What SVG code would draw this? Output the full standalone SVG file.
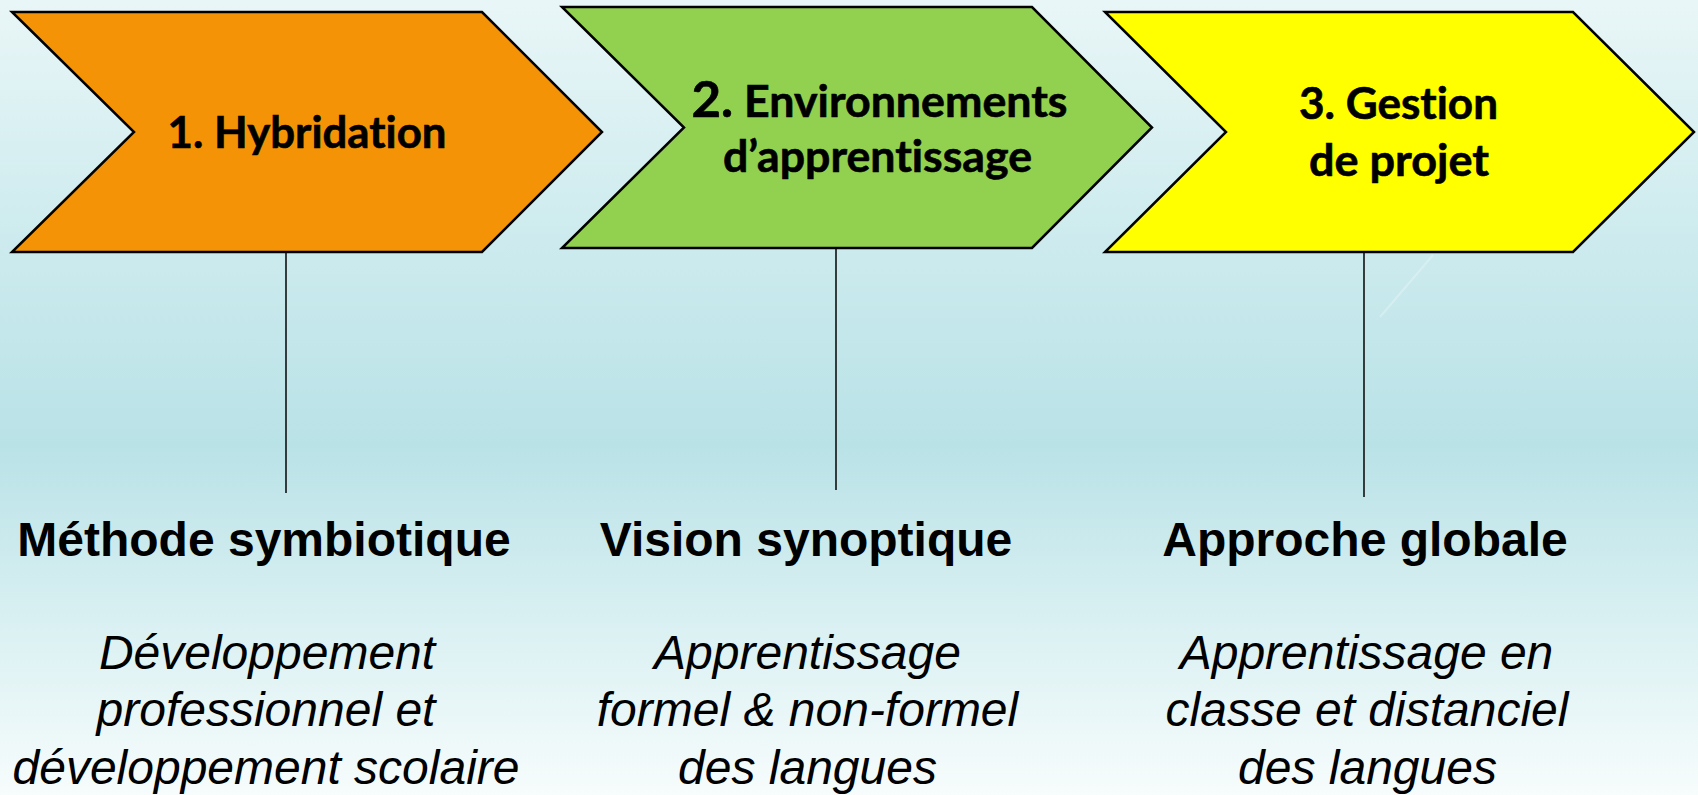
<svg xmlns="http://www.w3.org/2000/svg" width="1698" height="795" viewBox="0 0 1698 795">
<defs>
<linearGradient id="bg" x1="0" y1="0" x2="0" y2="1">
<stop offset="0" stop-color="#e9f6f7"/>
<stop offset="0.3" stop-color="#cdebee"/>
<stop offset="0.56" stop-color="#b9e2e7"/>
<stop offset="0.78" stop-color="#d9f0f2"/>
<stop offset="1" stop-color="#f7fcfc"/>
</linearGradient>
<style>
.chev{stroke:#000;stroke-width:2.5;stroke-linejoin:miter}
.ct{font-family:Lato,"Open Sans",sans-serif;font-weight:700;font-size:43px;fill:#000;stroke:#000;stroke-width:0.6;text-anchor:middle;font-variant-ligatures:none;font-feature-settings:"liga" 0}
.title{font-family:"Liberation Sans",Arial,sans-serif;font-weight:700;font-size:48px;fill:#000;text-anchor:middle}
.sub{font-family:"Liberation Sans",Arial,sans-serif;font-style:italic;font-size:48px;fill:#000;text-anchor:middle}
.conn{stroke:#111;stroke-width:1.6}
</style>
</defs>
<rect x="0" y="0" width="1698" height="795" fill="url(#bg)"/>
<line x1="1380" y1="317" x2="1433" y2="255" stroke="#ffffff" stroke-opacity="0.25" stroke-width="2"/>

<g id="connectors">
<line class="conn" x1="286" y1="252" x2="286" y2="493"/>
<line class="conn" x1="836" y1="248" x2="836" y2="490"/>
<line class="conn" x1="1364" y1="252" x2="1364" y2="497"/>
</g>

<g id="step1">
<polygon class="chev" fill="#f49306" points="12,12 482,12 602,132 482,252 12,252 134,132"/>
<text class="ct" x="307" y="148" textLength="279" lengthAdjust="spacingAndGlyphs">1. Hybridation</text>
</g>

<g id="step2">
<polygon class="chev" fill="#92d050" points="562,7 1032,7 1152,127.5 1032,248 562,248 684,127.5"/>
<text class="ct" x="879.5" y="117" textLength="376" lengthAdjust="spacingAndGlyphs"><tspan font-size="49">2.</tspan> Environnements</text>
<text class="ct" x="877.5" y="172" textLength="309" lengthAdjust="spacingAndGlyphs">d’apprentissage</text>
</g>

<g id="step3">
<polygon class="chev" fill="#ffff00" points="1105,12 1573,12 1694,132 1573,252 1105,252 1226,132"/>
<text class="ct" x="1398.5" y="119" textLength="199" lengthAdjust="spacingAndGlyphs">3. Gestion</text>
<text class="ct" x="1399" y="176" textLength="180" lengthAdjust="spacingAndGlyphs">de projet</text>
</g>

<g id="col1">
<text class="title" x="264" y="556">Méthode symbiotique</text>
<text class="sub" x="267" y="669">Développement</text>
<text class="sub" x="266" y="726">professionnel et</text>
<text class="sub" x="266" y="784">développement scolaire</text>
</g>

<g id="col2">
<text class="title" x="806" y="556">Vision synoptique</text>
<text class="sub" x="807.5" y="669">Apprentissage</text>
<text class="sub" x="807.5" y="726">formel &amp; non-formel</text>
<text class="sub" x="807.5" y="784">des langues</text>
</g>

<g id="col3">
<text class="title" x="1365" y="556">Approche globale</text>
<text class="sub" x="1366.5" y="669">Apprentissage en</text>
<text class="sub" x="1367" y="726">classe et distanciel</text>
<text class="sub" x="1367.5" y="784">des langues</text>
</g>
</svg>
